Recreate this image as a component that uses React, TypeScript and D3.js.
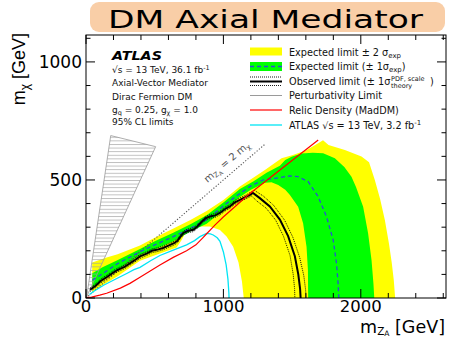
import React from 'react';
import * as d3 from 'd3';

const W = 449;
const H = 337;
const X_MAX = 2620;
const Y_MAX = 1114;

// ±2σ expected band (outer / inner contours), [m_Z, m_chi] in GeV
const exp2Up: number[][] = [[45,150],[150,172],[230,185],[393,222],[500,255],[640,295],[760,330],[878,368],[1000,415],[1120,472],[1220,510],[1302,542],[1423,592],[1500,605],[1600,625],[1690,655],[1725,668],[1765,648],[1884,627],[2005,599],[2060,575],[2102,500],[2140,420],[2175,330],[2205,230],[2225,150],[2240,75],[2250,0]];
const exp2Down: number[][] = [[45,22],[107,50],[230,92],[393,158],[538,189],[660,214],[696,246],[732,285],[780,298],[829,303],[902,303],[975,288],[1023,260],[1071,217],[1110,150],[1135,70],[1148,0]];
// ±1σ expected band
const exp1Up: number[][] = [[46,105],[120,130],[228,160],[393,208],[500,240],[635,276],[760,312],[878,350],[1000,405],[1120,462],[1217,493],[1314,530],[1411,560],[1450,585],[1496,598],[1569,612],[1650,615],[1726,613],[1811,592],[1880,555],[1932,514],[1965,470],[2017,387],[2053,274],[2078,161],[2092,60],[2098,0]];
const exp1Down: number[][] = [[46,45],[120,80],[228,118],[393,182],[500,205],[635,240],[760,282],[878,315],[1000,372],[1120,428],[1200,458],[1302,488],[1350,490],[1399,479],[1450,458],[1484,436],[1544,387],[1580,317],[1605,217],[1615,119],[1617,0]];
// expected limit
const expected: number[][] = [[46,75],[100,95],[228,145],[393,196],[500,225],[635,260],[760,295],[878,332],[1000,390],[1120,443],[1200,475],[1290,500],[1375,507],[1484,517],[1544,514],[1617,493],[1690,429],[1750,345],[1799,246],[1823,147],[1835,60],[1840,0]];
// observed limit
const observed: number[][] = [[30,35],[70,52],[107,72],[150,88],[200,108],[228,118],[280,132],[349,158],[393,176],[441,188],[480,200],[514,204],[560,212],[600,222],[640,232],[665,242],[690,262],[710,276],[745,285],[781,289],[810,303],[841,322],[870,338],[902,345],[940,350],[975,360],[1010,376],[1047,388],[1080,404],[1120,416],[1160,427],[1193,437],[1215,445],[1265,423],[1338,388],[1411,332],[1471,262],[1520,177],[1545,100],[1558,40],[1562,0]];
const obsTheoryUp: number[][] = [[30,42],[70,60],[107,80],[150,96],[200,116],[228,126],[280,140],[349,166],[393,184],[441,196],[480,208],[514,212],[560,220],[600,230],[640,240],[665,250],[690,270],[710,284],[745,293],[781,297],[810,311],[841,330],[870,346],[902,353],[940,358],[975,368],[1010,384],[1047,396],[1080,412],[1120,424],[1160,435],[1193,446],[1225,456],[1290,432],[1365,393],[1445,330],[1505,258],[1555,172],[1585,95],[1598,35],[1602,0]];
const obsTheoryDown: number[][] = [[30,28],[70,44],[107,64],[150,80],[200,100],[228,110],[280,124],[349,150],[393,168],[441,180],[480,192],[514,196],[560,204],[600,214],[640,224],[665,234],[690,254],[710,268],[745,277],[781,281],[810,295],[841,314],[870,330],[902,337],[940,342],[975,352],[1010,368],[1047,380],[1080,396],[1120,408],[1160,419],[1190,428],[1205,432],[1245,410],[1312,380],[1380,330],[1437,262],[1485,180],[1508,100],[1518,40],[1520,0]];
// ATLAS 13 TeV 3.2 fb-1
const atlas2015: number[][] = [[25,15],[60,30],[131,55],[199,75],[300,105],[349,120],[393,130],[470,158],[538,180],[635,203],[732,225],[790,243],[829,260],[878,274],[905,272],[926,267],[955,255],[975,240],[1000,195],[1020,140],[1033,80],[1040,20],[1041,0]];
// relic density
const relic: number[][] = [[0,2],[40,4],[100,12],[150,20],[250,42],[320,62],[393,88],[470,115],[538,140],[635,172],[732,200],[800,225],[850,255],[878,272],[940,310],[999,343],[1100,395],[1193,443],[1690,669]];
// perturbativity limit (hatched)
const perturb: number[][] = [[5,5],[180,688],[507,641]];
// m_Z = 2 m_chi
const diagonal: number[][] = [[0,0],[1300,650]];

const xTickLabels = [0, 1000, 2000];
const yTickLabels = [0, 500, 1000];

const FONT = "'DejaVu Sans', sans-serif";

export default function App() {
  const x = d3.scaleLinear().domain([0, X_MAX]).range([86, 446]);
  const y = d3.scaleLinear().domain([0, Y_MAX]).range([298, 35]);
  const line = d3.line<number[]>().x(d => x(d[0])).y(d => y(d[1]));
  const band = (up: number[][], down: number[][]) =>
    (line([...up, ...down.slice().reverse()]) || '') + 'Z';

  const x0 = x(0), x1 = x(X_MAX), y0 = y(0), y1 = y(Y_MAX);
  const xTicks = d3.range(0, X_MAX + 1, 200);
  const yTicks = d3.range(0, Y_MAX + 1, 100);

  const diagAngle = Math.atan2(y(650) - y(0), x(1300) - x(0)) * 180 / Math.PI;

  const legendRows = [52, 66.5, 81.5, 95.5, 110, 125];
  const lx0 = 250, lx1 = 282, tx = 289;

  return (
    <svg width={W} height={H} style={{ position: 'absolute', left: 0, top: 0, background: '#fff' }}
      xmlns="http://www.w3.org/2000/svg">
      <defs>
        <clipPath id="plotclip">
          <rect x={x0} y={y1} width={x1 - x0} height={y0 - y1} />
        </clipPath>
        <pattern id="hatch" width={6} height={3.6} patternUnits="userSpaceOnUse">
          <line x1={0} y1={0.5} x2={6} y2={0.5} stroke="#a0a0a0" strokeWidth={0.7} />
        </pattern>
      </defs>
      <rect width={W} height={H} fill="#fff" />
      <g clipPath="url(#plotclip)">
        <path d={band(exp2Up, exp2Down)} fill="#ffff00" />
        <path d={band(exp1Up, exp1Down)} fill="#00ff00" />
        <path d={(line(perturb) || '') + 'Z'} fill="url(#hatch)" stroke="#9a9a9a" strokeWidth={0.8} />
        <path d={line(diagonal) || ''} fill="none" stroke="#555" strokeWidth={1.1} strokeDasharray="1.2,1.8" />
        <path d={line(atlas2015) || ''} fill="none" stroke="#00e5f5" strokeWidth={1.3} />
        <path d={line(expected) || ''} fill="none" stroke="#2a4fd6" strokeWidth={1.3} strokeDasharray="4,3" />
        <path d={line(obsTheoryUp) || ''} fill="none" stroke="#000" strokeWidth={0.9} strokeDasharray="1,1" />
        <path d={line(obsTheoryDown) || ''} fill="none" stroke="#000" strokeWidth={0.9} strokeDasharray="1,1" />
        <path d={line(observed) || ''} fill="none" stroke="#000" strokeWidth={2} />
        <path d={line(relic) || ''} fill="none" stroke="#ff0000" strokeWidth={1.2} />
      </g>
      <text transform={`translate(${x(1025)},${y(575)}) rotate(${diagAngle})`} textAnchor="middle"
        fontFamily={FONT} fontSize={10} fill="#555" dy={3}>
        m<tspan fontSize={7} dy={2}>Z</tspan><tspan fontSize={5.5} dy={1.5}>A</tspan><tspan dy={-3.5}> = 2 m</tspan><tspan fontSize={7} dy={2}>χ</tspan>
      </text>

      {/* frame */}
      <rect x={x0} y={y1} width={x1 - x0} height={y0 - y1} fill="none" stroke="#000" strokeWidth={1} />
      {xTicks.map(t => {
        const len = t % 1000 === 0 ? 9 : 5;
        return (
          <g key={'xt' + t}>
            <line x1={x(t)} x2={x(t)} y1={y0} y2={y0 - len} stroke="#000" strokeWidth={1} />
            <line x1={x(t)} x2={x(t)} y1={y1} y2={y1 + len} stroke="#000" strokeWidth={1} />
          </g>
        );
      })}
      {yTicks.map(t => {
        const len = t % 500 === 0 ? 9 : 4.5;
        return (
          <g key={'yt' + t}>
            <line x1={x0} x2={x0 + len} y1={y(t)} y2={y(t)} stroke="#000" strokeWidth={1} />
            <line x1={x1} x2={x1 - len} y1={y(t)} y2={y(t)} stroke="#000" strokeWidth={1} />
          </g>
        );
      })}
      {xTickLabels.map(t => (
        <text key={'xl' + t} x={x(t)} y={312} textAnchor="middle" fontFamily={FONT} fontSize={16.5} fill="#000">{t}</text>
      ))}
      {yTickLabels.map(t => (
        <text key={'yl' + t} x={82} y={y(t) + 6} textAnchor="end" fontFamily={FONT} fontSize={17} fill="#000">{t}</text>
      ))}
      <text x={445} y={333} textAnchor="end" fontFamily={FONT} fontSize={17.5} fill="#000">
        m<tspan fontSize={10.5} dy={1.5}>Z</tspan><tspan fontSize={7.5} dy={1}>A</tspan><tspan dy={-2.5}> [GeV]</tspan>
      </text>
      <text transform="translate(25,33) rotate(-90)" textAnchor="end" fontFamily="'Liberation Sans', sans-serif" fontSize={18} fill="#000">
        m<tspan fontSize={12} dy={4}>χ</tspan><tspan dy={-4}> [GeV]</tspan>
      </text>

      {/* ATLAS text */}
      <text x={112} y={60} fontFamily={FONT} fontSize={12} fontWeight="bold" fontStyle="italic" fill="#000"
        textLength={50} lengthAdjust="spacingAndGlyphs">ATLAS</text>
      <g fontFamily={FONT} fontSize={9} fill="#111">
        <text x={112} y={73}>√s = 13 TeV, 36.1 fb<tspan fontSize={6.5} dy={-3.5}>-1</tspan></text>
        <text x={112} y={86}>Axial-Vector Mediator</text>
        <text x={112} y={99.5}>Dirac Fermion DM</text>
        <text x={112} y={112.5}>g<tspan fontSize={6.5} dy={2}>q</tspan><tspan dy={-2}> = 0.25, g</tspan><tspan fontSize={6.5} dy={2}>χ</tspan><tspan dy={-2}> = 1.0</tspan></text>
        <text x={112} y={125}>95% CL limits</text>
      </g>

      {/* legend */}
      <rect x={lx0} y={legendRows[0] - 4.5} width={lx1 - lx0} height={8} fill="#ffff00" />
      <rect x={lx0} y={legendRows[1] - 4.5} width={lx1 - lx0} height={9} fill="#00ff00" />
      <line x1={lx0} x2={lx1} y1={legendRows[1]} y2={legendRows[1]} stroke="#2a4fd6" strokeWidth={1.3} strokeDasharray="4,3" />
      <line x1={lx0} x2={lx1} y1={legendRows[2] - 4.5} y2={legendRows[2] - 4.5} stroke="#000" strokeWidth={0.9} strokeDasharray="1,1" />
      <line x1={lx0} x2={lx1} y1={legendRows[2]} y2={legendRows[2]} stroke="#000" strokeWidth={2} />
      <line x1={lx0} x2={lx1} y1={legendRows[2] + 4} y2={legendRows[2] + 4} stroke="#000" strokeWidth={0.9} strokeDasharray="1,1" />
      <line x1={lx0} x2={lx1} y1={legendRows[3]} y2={legendRows[3]} stroke="#9a9a9a" strokeWidth={1} />
      <line x1={lx0} x2={lx1} y1={legendRows[4]} y2={legendRows[4]} stroke="#ff0000" strokeWidth={1.2} />
      <line x1={lx0} x2={lx1} y1={legendRows[5]} y2={legendRows[5]} stroke="#00e5f5" strokeWidth={1.3} />
      <g fontFamily={FONT} fontSize={9.7} fill="#111">
        <text x={tx} y={legendRows[0] + 3.5}>Expected limit ± 2 σ<tspan fontSize={7} dy={2}>exp</tspan></text>
        <text x={tx} y={legendRows[1] + 3.5}>Expected limit (± 1σ<tspan fontSize={7} dy={2}>exp</tspan><tspan dy={-2}>)</tspan></text>
        <text x={tx} y={legendRows[2] + 3.5}>Observed limit (± 1σ</text>
        <text x={391} y={legendRows[2] - 1} fontSize={6.5}>PDF, scale</text>
        <text x={391} y={legendRows[2] + 6} fontSize={6.5}>theory</text>
        <text x={430} y={legendRows[2] + 3.5}>)</text>
        <text x={tx} y={legendRows[3] + 3.5}>Perturbativity Limit</text>
        <text x={tx} y={legendRows[4] + 3.5}>Relic Density (MadDM)</text>
        <text x={tx} y={legendRows[5] + 3.5}>ATLAS √s = 13 TeV, 3.2 fb<tspan fontSize={7} dy={-3.5}>-1</tspan></text>
      </g>

      {/* title box */}
      <rect x={90} y={2} width={355} height={30} rx={9} ry={9} fill="#f9cea7" />
      <text x={108} y={28} fontFamily={FONT} fontSize={24} fill="#000" textLength={315} lengthAdjust="spacingAndGlyphs">DM Axial Mediator</text>
    </svg>
  );
}
